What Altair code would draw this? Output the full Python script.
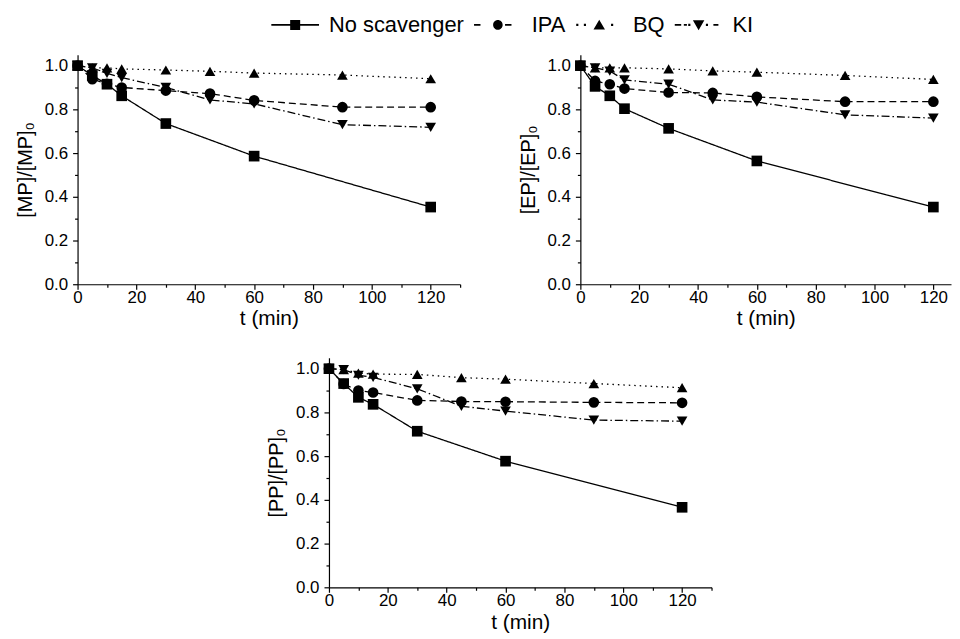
import altair as alt
import pandas as pd

FONT = "Liberation Sans"

series = ["No scavenger", "IPA", "BQ", "KI"]
t_none = [0, 5, 10, 15, 30, 60, 120]
t_scav = [0, 5, 10, 15, 30, 45, 60, 90, 120]

# [MP]/[MP]0
mp_none = [1.0, 0.955, 0.915, 0.862, 0.735, 0.586, 0.353]
mp_ipa = [1.0, 0.938, 0.917, 0.90, 0.886, 0.872, 0.841, 0.81, 0.81]
mp_bq = [1.0, 0.99, 0.99, 0.985, 0.98, 0.974, 0.966, 0.957, 0.94]
mp_ki = [1.0, 0.99, 0.965, 0.945, 0.90, 0.843, 0.825, 0.73, 0.718]

# [EP]/[EP]0
ep_none = [1.0, 0.905, 0.862, 0.803, 0.713, 0.564, 0.353]
ep_ipa = [1.0, 0.93, 0.915, 0.895, 0.877, 0.875, 0.857, 0.835, 0.835]
ep_bq = [1.0, 0.99, 0.99, 0.99, 0.985, 0.976, 0.97, 0.955, 0.937]
ep_ki = [1.0, 0.99, 0.975, 0.935, 0.915, 0.843, 0.833, 0.775, 0.76]

# [PP]/[PP]0
pp_none = [1.0, 0.932, 0.869, 0.837, 0.714, 0.577, 0.366]
pp_ipa = [1.0, 0.93, 0.9, 0.891, 0.855, 0.85, 0.849, 0.846, 0.844]
pp_bq = [1.0, 0.996, 0.98, 0.975, 0.974, 0.959, 0.952, 0.932, 0.913]
pp_ki = [1.0, 0.996, 0.97, 0.96, 0.908, 0.828, 0.806, 0.765, 0.76]

x_ticks = [0, 10, 20, 30, 40, 50, 60, 70, 80, 90, 100, 110, 120, 130]
y_ticks = [0.0, 0.1, 0.2, 0.3, 0.4, 0.5, 0.6, 0.7, 0.8, 0.9, 1.0]

dash_range = [[1, 0], [7, 4], [1.5, 4], [8, 3, 1.5, 3]]
shape_names = ["square", "circle", "triangle-up", "triangle-down"]

# legend glyphs: line sample + marker, drawn as filled paths (unit = 12 px)
K = 2.0


def f(v):
    return round(v * K, 3)


def rect(x0, x1, h=0.032):
    return f"M{f(x0)},{f(-h)}H{f(x1)}V{f(h)}H{f(x0)}Z"


def dot(x, h=0.045):
    return f"M{f(x - h)},{f(-h)}H{f(x + h)}V{f(h)}H{f(x - h)}Z"


r = f(0.2)
sq = f"M{f(-0.21)},{f(-0.21)}H{f(0.21)}V{f(0.21)}H{f(-0.21)}Z"
circ = f"M{r},0A{r},{r},0,1,1,{-r},0A{r},{r},0,1,1,{r},0Z"
tri_up = f"M0,{f(-0.22)}L{f(0.24)},{f(0.19)}L{f(-0.24)},{f(0.19)}Z"
tri_dn = f"M0,{f(0.22)}L{f(0.24)},{f(-0.19)}L{f(-0.24)},{f(-0.19)}Z"

legend_paths = [
    rect(-1, 1) + sq,
    rect(-1, -0.73) + circ + rect(0.3, 0.57),
    dot(-0.92) + dot(-0.6) + tri_up + dot(0.54),
    rect(-1, -0.73) + rect(-0.62, -0.49) + dot(-0.39) + tri_dn + dot(0.35) + rect(0.62, 0.83),
]


def build_df(none, ipa, bq, ki):
    frames = []
    for name, ts, vals in zip(series, [t_none, t_scav, t_scav, t_scav], [none, ipa, bq, ki]):
        frames.append(pd.DataFrame({"t": ts, "c": vals, "s": name}))
    return pd.concat(frames, ignore_index=True)


def panel(df, ytitle, xmax, width, with_legend=False):
    xvals = [v for v in x_ticks if v <= xmax]
    x = alt.X(
        "t:Q",
        scale=alt.Scale(domain=[0, xmax], nice=False, zero=False),
        axis=alt.Axis(
            values=xvals,
            labelExpr="datum.value % 20 === 0 ? datum.label : ''",
            tickSize={"condition": {"test": "datum.value % 20 === 0", "value": 5}, "value": 3},
            labelPadding=0,
            titlePadding=3,
            labelFlush=False,
            labelOverlap=False,
            title="t (min)",
        ),
    )
    y = alt.Y(
        "c:Q",
        scale=alt.Scale(domain=[0, 1.05], nice=False),
        axis=alt.Axis(
            values=y_ticks,
            format=".1f",
            labelExpr="round(datum.value * 10) % 2 === 0 ? datum.label : ''",
            tickSize={"condition": {"test": "round(datum.value * 10) % 2 === 0", "value": 5}, "value": 3},
            labelPadding=5,
            titlePadding=9,
            labelOverlap=False,
            title=ytitle,
        ),
    )
    base = alt.Chart(df)
    layers = [
        base.mark_line(color="black", strokeWidth=1.3).encode(
            x=x,
            y=y,
            strokeDash=alt.StrokeDash("s:N", scale=alt.Scale(domain=series, range=dash_range), legend=None),
            detail="s:N",
        )
    ]
    for name, shp in zip(series, shape_names):
        layers.append(
            base.transform_filter(alt.datum.s == name)
            .mark_point(filled=True, color="black", opacity=1, size=115, shape=shp)
            .encode(x=x, y=y)
        )
    if with_legend:
        layers.append(
            base.transform_filter("false")
            .mark_point(filled=True, color="black", opacity=1, size=576)
            .encode(
                x=x,
                y=y,
                shape=alt.Shape(
                    "s:N",
                    scale=alt.Scale(domain=series, range=legend_paths),
                    legend=alt.Legend(
                        orient="none",
                        legendX=195,
                        legendY=-42,
                        direction="horizontal",
                        title=None,
                        labelFontSize=22,
                        labelFont=FONT,
                        labelColor="black",
                        labelLimit=400,
                        symbolSize=576,
                        symbolFillColor="black",
                        symbolStrokeWidth=0,
                        symbolOpacity=1,
                        symbolOffset=12,
                        labelOffset=22,
                        columnPadding=10,
                        padding=0,
                    ),
                ),
            )
        )
    ch = alt.layer(*layers).properties(width=width, height=231)
    if with_legend:
        ch = ch.resolve_scale(shape="independent")
    return ch


df1 = build_df(mp_none, mp_ipa, mp_bq, mp_ki)
df2 = build_df(ep_none, ep_ipa, ep_bq, ep_ki)
df3 = build_df(pp_none, pp_ipa, pp_bq, pp_ki)

p1 = panel(df1, "[MP]/[MP]₀", 130, 385, with_legend=True)
p2 = panel(df2, "[EP]/[EP]₀", 126, 373)
p3 = panel(df3, "[PP]/[PP]₀", 130, 385)

# empty spacer that pushes the bottom panel to its place under the top row
spacer = (
    alt.Chart(df3)
    .transform_filter("false")
    .mark_point(opacity=0)
    .encode(x=alt.value(0), y=alt.value(0))
    .properties(width=188, height=1)
)

top = alt.hconcat(p1, p2, spacing=121, bounds="flush").resolve_scale(shape="independent")
bottom = alt.hconcat(spacer, p3, spacing=0)
chart = (
    alt.vconcat(top, bottom, spacing=27)
    .resolve_scale(shape="independent")
    .properties(padding={"left": 6, "top": 2, "right": 0, "bottom": 0})
    .configure(font=FONT)
    .configure_view(stroke="transparent")
    .configure_axis(
        domainColor="black",
        domainWidth=1.2,
        tickColor="black",
        tickWidth=1.2,
        labelColor="black",
        labelFont=FONT,
        labelFontSize=17,
        titleColor="black",
        titleFont=FONT,
        titleFontWeight="normal",
        grid=False,
    )
    .configure_axisX(titleFontSize=21)
    .configure_axisY(titleFontSize=20)
)

chart.save("out.html", embed_options={"renderer": "svg", "actions": False})
